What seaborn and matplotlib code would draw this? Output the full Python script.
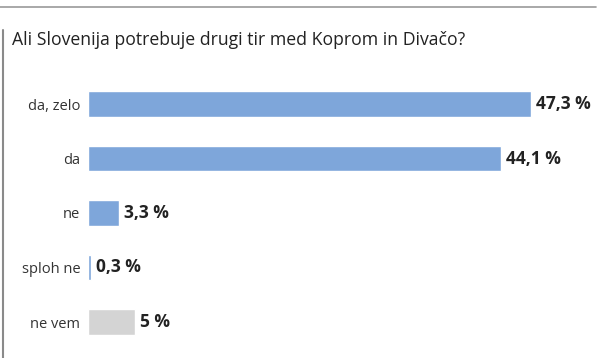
import matplotlib
matplotlib.use("Agg")
import pandas as pd
import matplotlib.pyplot as plt
import seaborn as sns
from matplotlib.lines import Line2D

title = "Ali Slovenija potrebuje drugi tir med Koprom in Divačo?"
categories = ["da, zelo", "da", "ne", "sploh ne", "ne vem"]
values = [47.3, 44.1, 3.3, 0.3, 5]
labels = ["47,3 %", "44,1 %", "3,3 %", "0,3 %", "5 %"]
colors = ["#7ea6da", "#7ea6da", "#7ea6da", "#7ea6da", "#d4d4d4"]

df = pd.DataFrame({"odgovor": categories, "delez": values})

sns.set_style("white")
plt.rcParams["font.family"] = ["Open Sans", "DejaVu Sans"]

W, H = 600, 358
fig = plt.figure(figsize=(6, 3.58), dpi=100)

# axes placed so the bars start at x=88px and rows sit at the reference y positions
ax = fig.add_axes([88 / W, (358 - 349.25) / H, 512 / W, 272.5 / H])
sns.barplot(data=df, x="delez", y="odgovor", hue="odgovor", palette=colors,
            legend=False, width=0.46, ax=ax, saturation=1)
ax.set_xlim(0, 512 / 9.37)
ax.set_ylim(4.5, -0.5)
sns.despine(ax=ax, left=True, bottom=True)
ax.set_xticks([])
ax.set_xlabel("")
ax.set_ylabel("")
ax.tick_params(axis="y", length=0, pad=5.5, labelsize=10.5, labelcolor="#333333")

for i, (v, lab) in enumerate(zip(values, labels)):
    ax.text(v + 0.55, i, lab, va="center", ha="left", fontsize=12.5,
            fontweight="bold", color="#222222")

fig.text(12 / W, 1 - 40 / H, title, fontsize=12.7, color="#222222", va="center")

# frame lines: top rule and left rule
fig.add_artist(Line2D([0, 596 / W], [1 - 7 / H, 1 - 7 / H], color="#9a9a9a", lw=1.2,
                      transform=fig.transFigure))
fig.add_artist(Line2D([2.5 / W, 2.5 / W], [1 - 30 / H, 0], color="#8a8a8a", lw=1.5,
                      transform=fig.transFigure))

fig.savefig("out.png", dpi=100)
